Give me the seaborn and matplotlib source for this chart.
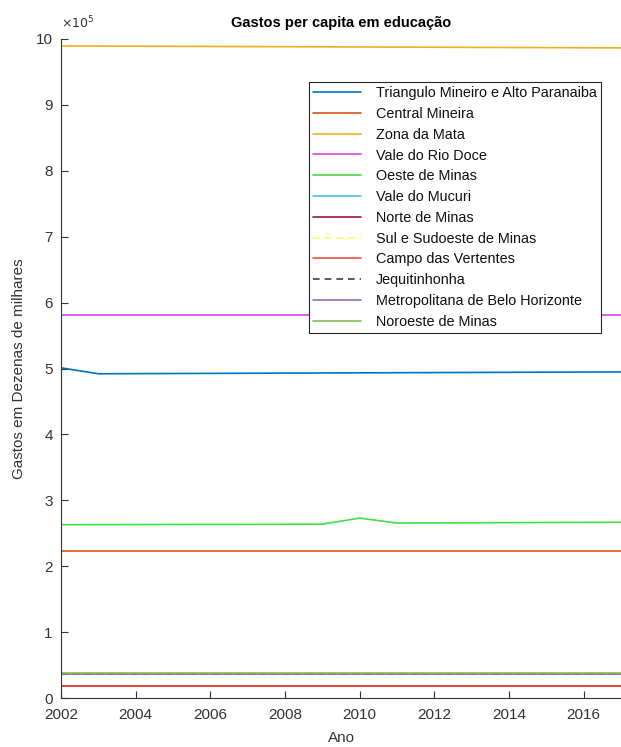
import matplotlib
matplotlib.use("Agg")
import matplotlib.pyplot as plt
import seaborn as sns
import pandas as pd
from matplotlib.ticker import FuncFormatter

anos = list(range(2002, 2019))

regioes = ["Triangulo Mineiro e Alto Paranaiba", "Central Mineira", "Zona da Mata",
           "Vale do Rio Doce", "Oeste de Minas", "Vale do Mucuri", "Norte de Minas",
           "Sul e Sudoeste de Minas", "Campo das Vertentes", "Jequitinhonha",
           "Metropolitana de Belo Horizonte", "Noroeste de Minas"]

triangulo = [501000, 492000, 492200, 492400, 492600, 492800, 493000, 493200, 493400,
             493600, 493800, 494000, 494200, 494400, 494600, 494800, 495000]
central = [223000, 223000, 223000, 223000, 223000, 223000, 223000, 223000, 223000,
           223000, 223000, 223000, 223000, 223000, 223000, 223000, 223000]
zona_mata = [989500, 989300, 989100, 988900, 988700, 988500, 988300, 988100, 987900,
             987700, 987500, 987300, 987100, 986900, 986700, 986500, 986300]
rio_doce = [581000, 581000, 581000, 581000, 581000, 581000, 581000, 581000, 581000,
            581000, 581000, 581000, 581000, 581000, 581000, 581000, 581000]
oeste = [263000, 263100, 263200, 263300, 263400, 263500, 263600, 263800, 273000,
         265500, 265700, 265900, 266100, 266300, 266500, 266700, 266900]
mucuri = [36000, 36000, 36000, 36000, 36000, 36000, 36000, 36000, 36000,
          36000, 36000, 36000, 36000, 36000, 36000, 36000, 36000]
norte = [18000, 18000, 18000, 18000, 18000, 18000, 18000, 18000, 18000,
         18000, 18000, 18000, 18000, 18000, 18000, 18000, 18000]
sul = [37000, 37000, 37000, 37000, 37000, 37000, 37000, 37000, 37000,
       37000, 37000, 37000, 37000, 37000, 37000, 37000, 37000]
campo = [18000, 18000, 18000, 18000, 18000, 18000, 18000, 18000, 18000,
         18000, 18000, 18000, 18000, 18000, 18000, 18000, 18000]
jequitinhonha = [36500, 36500, 36500, 36500, 36500, 36500, 36500, 36500, 36500,
                 36500, 36500, 36500, 36500, 36500, 36500, 36500, 36500]
metropolitana = [36200, 36200, 36200, 36200, 36200, 36200, 36200, 36200, 36200,
                 36200, 36200, 36200, 36200, 36200, 36200, 36200, 36200]
noroeste = [37500, 37500, 37500, 37500, 37500, 37500, 37500, 37500, 37500,
            37500, 37500, 37500, 37500, 37500, 37500, 37500, 37500]

series = [triangulo, central, zona_mata, rio_doce, oeste, mucuri, norte, sul,
          campo, jequitinhonha, metropolitana, noroeste]

cores = ["#0072BD", "#D95319", "#EDB120", "#DD44DD", "#44DD44", "#4DBEEE",
         "#A2142F", "#FFFF66", "#F0503C", "#404040", "#9A6AB8", "#88BB55"]
estilos = ["-", "-", "-", "-", "-", "-", "-", "--", "-", "--", "-", "-"]

rows = []
for nome, vals in zip(regioes, series):
    for a, v in zip(anos, vals):
        rows.append({"Ano": a, "Gasto": v, "Regiao": nome})
df = pd.DataFrame(rows)

sns.set_style("white")
plt.rcParams["font.family"] = ["Liberation Sans", "DejaVu Sans"]

fig = plt.figure(figsize=(6.21, 7.47), dpi=100)
ax = fig.add_axes([61 / 621, 1 - 698 / 747, 1 - 61 / 621, (698 - 39) / 747])

pal = dict(zip(regioes, cores))
dash_map = {n: ("" if s == "-" else (4, 3)) for n, s in zip(regioes, estilos)}
sns.lineplot(data=df, x="Ano", y="Gasto", hue="Regiao", style="Regiao",
             hue_order=regioes, style_order=regioes, palette=pal, dashes=dash_map,
             linewidth=1.2, legend=False, ax=ax)

ax.set_xlim(2002, 2017)
ax.set_ylim(0, 1e6)
ax.set_xticks(range(2002, 2017, 2))
ax.set_yticks([i * 1e5 for i in range(11)])
ax.yaxis.set_major_formatter(FuncFormatter(lambda v, p: f"{v / 1e5:.0f}"))

axc = "#333333"
for s in ["top", "right"]:
    ax.spines[s].set_visible(False)
for s in ["left", "bottom"]:
    ax.spines[s].set_color(axc)
    ax.spines[s].set_linewidth(0.8)
ax.tick_params(direction="in", length=5, width=0.8, colors=axc, labelsize=11,
               left=True, bottom=True)
ax.tick_params(axis="y", pad=6)
ax.tick_params(axis="x", pad=7)

ax.set_title("Gastos per capita em educação", fontsize=10.5, fontweight="bold",
             color="black", pad=9)
ax.set_xlabel("Ano", fontsize=11, color=axc, labelpad=7)
ax.set_ylabel("Gastos em Dezenas de milhares", fontsize=11, color=axc, labelpad=7)
ax.text(0.0, 1.012, r"$\times10^5$", transform=ax.transAxes, fontsize=9,
        color=axc, ha="left", va="bottom",
        fontfamily=["Liberation Sans", "DejaVu Sans"])

leg = ax.legend(ax.lines[:len(regioes)], regioes, loc="upper left",
                bbox_to_anchor=(0.443, 0.935), borderaxespad=0, fontsize=10.4,
                frameon=True, fancybox=False, edgecolor="#262626",
                handlelength=3.3, handletextpad=1.0, labelspacing=0.47,
                borderpad=0.3, framealpha=1)
leg.get_frame().set_linewidth(0.8)
for t in leg.get_texts():
    t.set_color("#111111")

fig.savefig("out.png", dpi=100)
